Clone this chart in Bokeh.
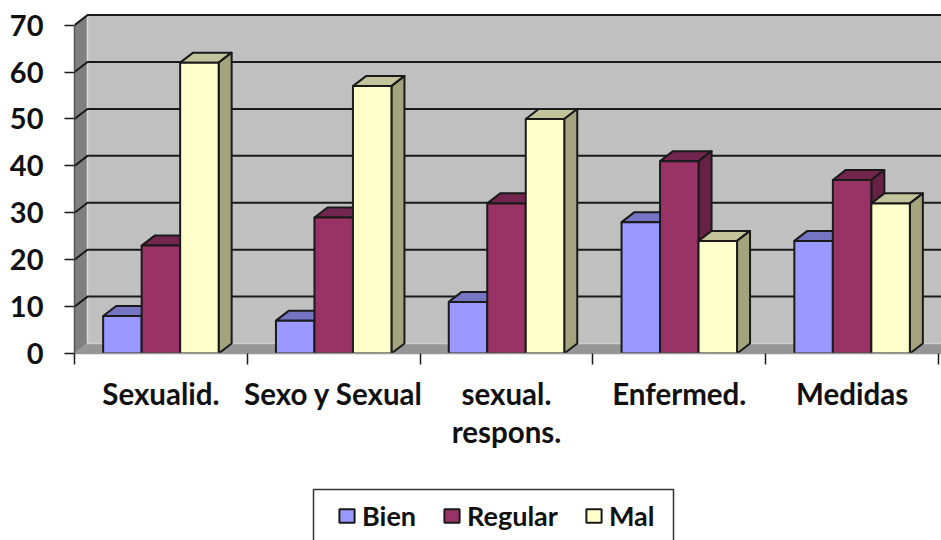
from bokeh.plotting import figure
from bokeh.layouts import column
from bokeh.models import Legend, LegendItem, FixedTicker, LinearAxis
from bokeh.embed import file_html
from bokeh.resources import INLINE

categories = ["Sexualid.", "Sexo y Sexual", "sexual.\nrespons.", "Enfermed.", "Medidas"]
series_names = ["Bien", "Regular", "Mal"]
bien = [8, 7, 11, 28, 24]
regular = [23, 29, 32, 41, 37]
mal = [62, 57, 50, 24, 32]
y_ticks = [0, 10, 20, 30, 40, 50, 60, 70]

FRONT = ["#9999ff", "#993366", "#ffffcc"]
TOP = ["#7575c4", "#73264d", "#c4c49c"]
SIDE = ["#7575c4", "#662244", "#a3a37e"]
INK = "#1a1a1a"
FONT = "Lato"

BAR_W = 0.2228
DX = 13 / 172.8
DY = 10 / 4.69
X_MAX = 867 / 172.8
Y_MAX = 72.9

p = figure(width=941, height=487, output_backend="svg", toolbar_location=None,
           x_range=(0, X_MAX), y_range=(0, Y_MAX), x_axis_type=None, y_axis_type=None,
           min_border_left=74, min_border_right=0, min_border_top=11, min_border_bottom=134,
           background_fill_color="white", border_fill_color="white", outline_line_color=None)
p.grid.visible = False

# walls and floor
p.patch([DX, X_MAX, X_MAX, DX], [DY, DY, 70 + DY, 70 + DY], fill_color="#c0c0c0", line_color=None)
p.patch([0, DX, DX, 0], [0, DY, 70 + DY, 70], fill_color="#808080", line_color=None)
p.patch([0, X_MAX, X_MAX, DX], [0, 0, DY, DY], fill_color="#969696", line_color=None)
p.line([DX, DX], [DY, 70 + DY], line_color="#dcdcdc", line_width=1.5)
p.line([DX, X_MAX], [DY, DY], line_color="#cfcfcf", line_width=1.5)

# gridlines, running up the side wall and along the back
grid_t = [t for t in y_ticks if t > 0]
p.multi_line([[0, DX, X_MAX] for _ in grid_t], [[t, t + DY, t + DY] for t in grid_t],
             line_color=INK, line_width=2)

for k, vals in enumerate([bien, regular, mal]):
    lefts = [i + 0.5 + (k - 1.5) * BAR_W for i in range(len(vals))]
    rights = [l + BAR_W for l in lefts]
    p.patches([[l, r, r + DX, l + DX] for l, r in zip(lefts, rights)],
              [[v, v, v + DY, v + DY] for v in vals],
              fill_color=TOP[k], line_color=INK, line_width=2, line_join="round")
    p.patches([[r, r + DX, r + DX, r] for r in rights],
              [[0, DY, v + DY, v] for v in vals],
              fill_color=SIDE[k], line_color=INK, line_width=2, line_join="round")
    p.vbar(x=[(l + r) / 2 for l, r in zip(lefts, rights)], top=vals, bottom=0,
           width=BAR_W, fill_color=FRONT[k], line_color=INK, line_width=2)

# value axis
ya = LinearAxis(ticker=FixedTicker(ticks=y_ticks), bounds=(0, 70))
ya.axis_line_color = "#555555"
ya.axis_line_width = 1.5
ya.major_tick_line_color = INK
ya.major_tick_line_width = 1.5
ya.major_tick_in = 0
ya.major_tick_out = 10
ya.minor_tick_line_color = None
ya.major_label_standoff = 21
ya.major_label_text_font = FONT
ya.major_label_text_font_style = "bold"
ya.major_label_text_font_size = "29px"
ya.major_label_text_color = "#111111"
p.add_layout(ya, "left")

# category axis: labels at the centres, tick marks on the boundaries
centres = [i + 0.5 for i in range(len(categories))]
xa = LinearAxis(ticker=FixedTicker(ticks=centres, minor_ticks=list(range(len(categories) + 1))))
xa.major_label_overrides = dict(zip(centres, categories))
xa.axis_line_color = "#999999"
xa.axis_line_width = 1.5
xa.major_tick_line_color = None
xa.major_tick_in = 0
xa.major_tick_out = 0
xa.minor_tick_line_color = INK
xa.minor_tick_line_width = 1.5
xa.minor_tick_in = 0
xa.minor_tick_out = 11
xa.major_label_standoff = 11
xa.major_label_text_font = FONT
xa.major_label_text_font_style = "bold"
xa.major_label_text_font_size = "29.5px"
xa.major_label_text_line_height = 1.1
xa.major_label_text_color = "#111111"
p.add_layout(xa, "below")

# legend strip under the chart, its box open at the bottom edge of the page
lg = figure(width=941, height=53, output_backend="svg", toolbar_location=None,
            x_range=(0, 867), y_range=(0, 53), x_axis_type=None, y_axis_type=None,
            min_border_left=74, min_border_right=0, min_border_top=0, min_border_bottom=0,
            background_fill_color="white", border_fill_color="white", outline_line_color=None)
lg.grid.visible = False
lg.line([239, 239, 599, 599], [0, 51, 51, 0], line_color="#333333", line_width=1.5)
items = []
for k, (name, vals) in enumerate(zip(series_names, [bien, regular, mal])):
    r = lg.vbar(x=list(range(len(vals))), top=vals, width=1, fill_color=FRONT[k], line_color=INK,
                line_width=2, visible=False)
    items.append(LegendItem(label=name, renderers=[r]))
legend = Legend(items=items, orientation="horizontal", location=(263, 8), padding=0, margin=0, spacing=26,
                glyph_width=19, glyph_height=17, label_standoff=6, label_height=17,
                label_text_font=FONT, label_text_font_style="bold", label_text_font_size="27px",
                label_text_color="#111111", background_fill_alpha=0, border_line_color=None)
lg.add_layout(legend)

page = column(p, lg, spacing=0)
open("out.html", "w").write(file_html(page, INLINE))
